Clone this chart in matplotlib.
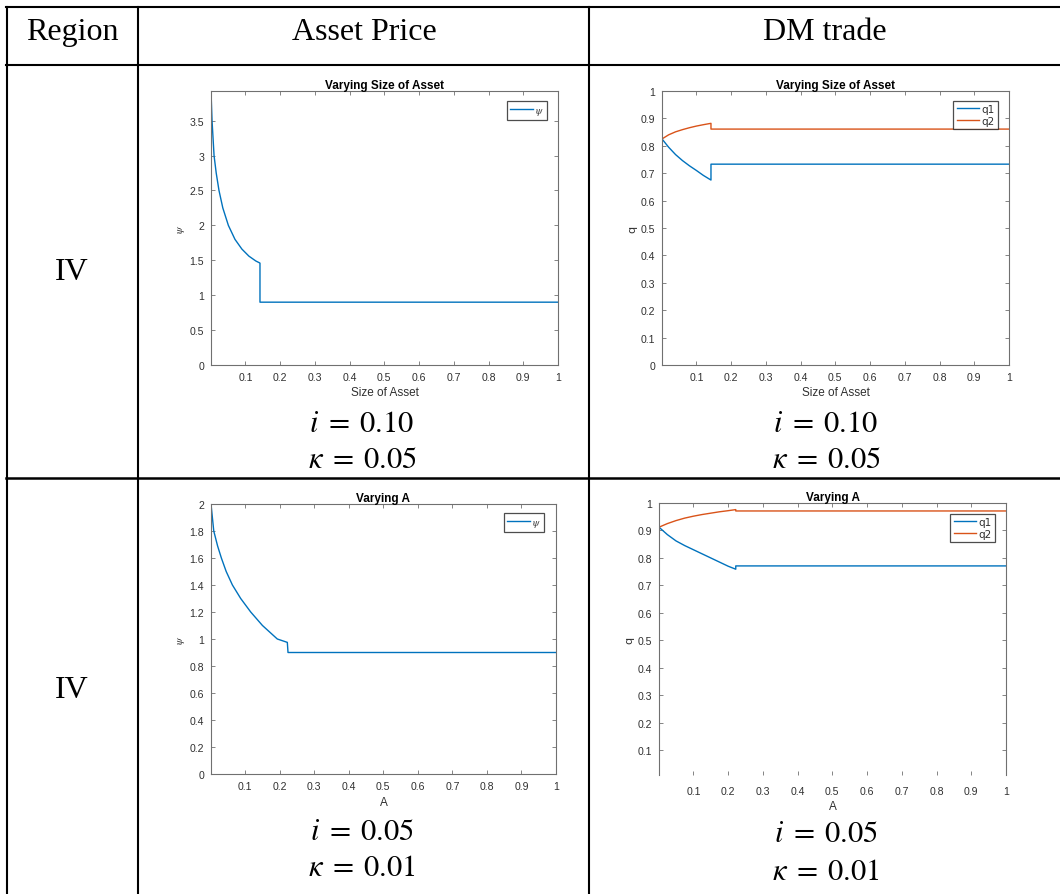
import matplotlib
matplotlib.use("Agg")
import matplotlib.pyplot as plt
from matplotlib.lines import Line2D

plt.rcParams['mathtext.fontset'] = 'stix'

# ---------------- data ----------------
header_labels = ["Region", "Asset Price", "DM trade"]
region_labels = ["IV", "IV"]
param_labels = [(r"$i\;=\;0.10$", r"$\kappa\;=\;0.05$"),
                (r"$i\;=\;0.05$", r"$\kappa\;=\;0.01$")]

# Panel 1: asset price vs size of asset
size_x = [0.001, 0.004, 0.0098, 0.016, 0.024, 0.035, 0.051, 0.07, 0.09, 0.11, 0.13, 0.142, 0.142, 1.0]
size_psi = [3.92, 3.5, 3.0, 2.75, 2.5, 2.25, 2.0, 1.8, 1.66, 1.56, 1.49, 1.46, 0.9, 0.9]

# Panel 2: DM trade vs size of asset
size_qx = [0.001, 0.02, 0.04, 0.06, 0.08, 0.1, 0.12, 0.142, 0.142, 1.0]
size_q1 = [0.825, 0.795, 0.768, 0.746, 0.727, 0.71, 0.692, 0.675, 0.733, 0.733]
size_q2 = [0.825, 0.84, 0.851, 0.859, 0.866, 0.872, 0.877, 0.882, 0.861, 0.861]

# Panel 3: asset price vs A
a_x = [0.001, 0.009, 0.02, 0.031, 0.045, 0.063, 0.087, 0.116, 0.15, 0.193, 0.222, 0.224, 1.0]
a_psi = [2.0, 1.8, 1.69, 1.6, 1.5, 1.4, 1.3, 1.2, 1.1, 1.0, 0.975, 0.9, 0.9]

# Panel 4: DM trade vs A
a_qx = [0.001, 0.025, 0.05, 0.075, 0.1, 0.125, 0.15, 0.175, 0.2, 0.222, 0.222, 1.0]
a_q1 = [0.912, 0.885, 0.862, 0.845, 0.83, 0.815, 0.8, 0.785, 0.77, 0.759, 0.771, 0.771]
a_q2 = [0.912, 0.925, 0.936, 0.945, 0.952, 0.958, 0.963, 0.968, 0.972, 0.976, 0.971, 0.971]

x_ticks = [0.1, 0.2, 0.3, 0.4, 0.5, 0.6, 0.7, 0.8, 0.9, 1.0]
x_ticklabels = ["0.1", "0.2", "0.3", "0.4", "0.5", "0.6", "0.7", "0.8", "0.9", "1"]

BLUE = "#0072BD"
ORANGE = "#D95319"
AXC = "#707070"
TXT = "#303030"

W, H = 1060, 895
fig = plt.figure(figsize=(W / 100, H / 100), dpi=100)

# ---------------- table background ----------------
bg = fig.add_axes([0, 0, 1, 1], zorder=0)
bg.set_xlim(0, W)
bg.set_ylim(H, 0)
bg.axis("off")
lw = 1.5
for y in (8, 66, 479):
    bg.add_line(Line2D([6, W], [y, y], color="black", lw=lw if y != 479 else 1.8))
for x in (7, 138, 589):
    bg.add_line(Line2D([x, x], [8, H], color="black", lw=lw))

serif = "Liberation Serif"
HFS = 23
bg.text(72, 32, header_labels[0], ha="center", va="center", fontsize=HFS, family=serif)
bg.text(364, 32, header_labels[1], ha="center", va="center", fontsize=HFS, family=serif)
bg.text(825, 32, header_labels[2], ha="center", va="center", fontsize=HFS, family=serif)
bg.text(72, 272, region_labels[0], ha="center", va="center", fontsize=HFS, family=serif)
bg.text(72, 690, region_labels[1], ha="center", va="center", fontsize=HFS, family=serif)

for (cx, rows) in ((362, [(424, 460), (832, 868)]), (826, [(424, 460), (834, 872)])):
    for r, (y1, y2) in enumerate(rows):
        bg.text(cx, y1, param_labels[r][0], ha="center", va="center", fontsize=22)
        bg.text(cx, y2, param_labels[r][1], ha="center", va="center", fontsize=22)


def ax_px(left, top, right, bottom):
    return fig.add_axes([left / W, 1 - bottom / H, (right - left) / W, (bottom - top) / H], zorder=2)


def style(ax, title, xlabel, ylabel, yticks, ylim, bottom_spine=True, xlabelpad=3):
    ax.set_xlim(0.001, 1)
    ax.set_ylim(*ylim)
    ax.set_xticks(x_ticks)
    ax.set_xticklabels(x_ticklabels)
    ax.set_yticks(yticks)
    ax.set_yticklabels([("%g" % v) for v in yticks])
    ax.tick_params(direction="in", length=3, width=0.6, color=AXC, labelsize=7.6,
                   labelcolor=TXT, top=True, right=True, pad=5)
    for s in ax.spines.values():
        s.set_color(AXC)
        s.set_linewidth(0.8)
    if not bottom_spine:
        ax.spines["bottom"].set_visible(False)
    ax.set_title(title, fontsize=8.5, fontweight="bold", family="Liberation Sans", pad=2)
    ax.set_xlabel(xlabel, fontsize=8.5, color=TXT, family="Liberation Sans", labelpad=xlabelpad)
    ax.set_ylabel(ylabel, fontsize=8, color=TXT, labelpad=2)
    for lab in ax.get_xticklabels() + ax.get_yticklabels():
        lab.set_family("Liberation Sans")


def legend(ax, loc_anchor):
    leg = ax.legend(loc="upper right", bbox_to_anchor=loc_anchor, fontsize=7.5, frameon=True,
                    fancybox=False, edgecolor="#202020", handlelength=2.2, handletextpad=0.2,
                    borderpad=0.3, labelspacing=0.2, borderaxespad=0)
    leg.get_frame().set_linewidth(0.9)
    for t in leg.get_texts():
        t.set_color(TXT)
    return leg


# Panel 1
ax1 = ax_px(211, 92, 558, 366)
ax1.plot(size_x, size_psi, color=BLUE, lw=1.0, label=r"$\psi$")
style(ax1, "Varying Size of Asset", "Size of Asset", r"$\psi$",
      [0, 0.5, 1, 1.5, 2, 2.5, 3, 3.5], (0, 3.925))
legend(ax1, (0.968, 0.962))

# Panel 2
ax2 = ax_px(662, 92, 1009, 366)
ax2.plot(size_qx, size_q1, color=BLUE, lw=1.0, label="q1")
ax2.plot(size_qx, size_q2, color=ORANGE, lw=1.0, label="q2")
style(ax2, "Varying Size of Asset", "Size of Asset", "q",
      [0, 0.1, 0.2, 0.3, 0.4, 0.5, 0.6, 0.7, 0.8, 0.9, 1], (0, 1))
legend(ax2, (0.968, 0.965))

# Panel 3
ax3 = ax_px(211, 505, 556, 775)
ax3.plot(a_x, a_psi, color=BLUE, lw=1.0, label=r"$\psi$")
style(ax3, "Varying A", "A", r"$\psi$",
      [0, 0.2, 0.4, 0.6, 0.8, 1, 1.2, 1.4, 1.6, 1.8, 2], (0, 2), xlabelpad=4)
legend(ax3, (0.965, 0.965))

# Panel 4
ax4 = ax_px(659, 504, 1006, 776)
ax4.plot(a_qx, a_q1, color=BLUE, lw=1.0, label="q1")
ax4.plot(a_qx, a_q2, color=ORANGE, lw=1.0, label="q2")
style(ax4, "Varying A", "A", "q",
      [0.1, 0.2, 0.3, 0.4, 0.5, 0.6, 0.7, 0.8, 0.9, 1], (0.01, 1), bottom_spine=False,
      xlabelpad=3)
ax4.tick_params(axis="x", pad=8)
legend(ax4, (0.968, 0.96))

fig.savefig("out.png", dpi=100)
